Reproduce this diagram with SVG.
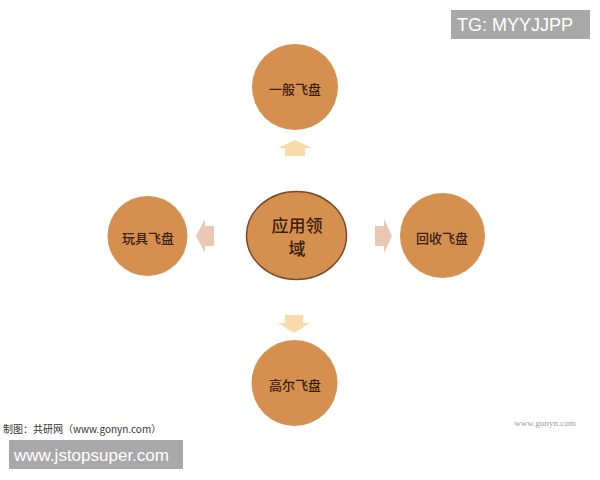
<svg xmlns="http://www.w3.org/2000/svg" width="600" height="480" viewBox="0 0 600 480">
<style>
.node{fill:#d58f4f;}
.lbl{font-family:"Noto Sans CJK SC","Liberation Sans",sans-serif;font-size:13px;font-weight:500;fill:#3a1d0e;text-anchor:middle;dominant-baseline:central;}
.big{font-size:17px;}
.wm{font-family:"Liberation Sans",sans-serif;fill:#ffffff;}
</style>
<rect width="600" height="480" fill="#ffffff"/>
<g id="connectors">
<polygon id="arrow-up" points="295,140 312,148 305,148 305,156 285,156 285,148 278,148" fill="#f8dba8"/>
<polygon id="arrow-left" points="196,236 205,219 205,226 214,226 214,246 205,246 205,253" fill="#ebc7b3"/>
<polygon id="arrow-right" points="392,236 384,219 384,226 375,226 375,246 384,246 384,253" fill="#ebc7b3"/>
<polygon id="arrow-down" points="294,333 310,323 303,323 303,315 285,315 285,323 278,323" fill="#f8dba8"/>
</g>
<g id="center">
<ellipse cx="296.5" cy="235.5" rx="50" ry="44" class="node" stroke="#7a4c2c" stroke-width="1.5"/>
<text class="lbl big" x="297" y="224">应用领</text>
<text class="lbl big" x="297" y="247">域</text>
</g>
<g id="top">
<circle cx="295" cy="87" r="43" class="node"/>
<text class="lbl" x="295" y="88">一般飞盘</text>
</g>
<g id="left">
<circle cx="147.5" cy="236" r="40" class="node"/>
<text class="lbl" x="148" y="237">玩具飞盘</text>
</g>
<g id="right">
<circle cx="442.5" cy="235.5" r="42.5" class="node"/>
<text class="lbl" x="442" y="237">回收飞盘</text>
</g>
<g id="bottom">
<circle cx="294.5" cy="383" r="43" class="node"/>
<text class="lbl" x="295" y="384">高尔飞盘</text>
</g>
<text x="3" y="433" font-family="'Noto Sans CJK SC','Liberation Serif',serif" font-size="10" fill="#333333">制图：共研网（www.gonyn.com）</text>
<text x="545" y="426" font-family="'Liberation Serif',serif" font-size="9" fill="#999999" text-anchor="middle">www.gonyn.com</text>
<rect x="9" y="440" width="174" height="29" fill="#a8a8a8"/>
<text class="wm" x="14" y="461" font-size="17">www.jstopsuper.com</text>
<rect x="451" y="10" width="139" height="29" fill="#a8a8a8"/>
<text class="wm" x="457" y="31" font-size="18">TG: MYYJJPP</text>
</svg>
